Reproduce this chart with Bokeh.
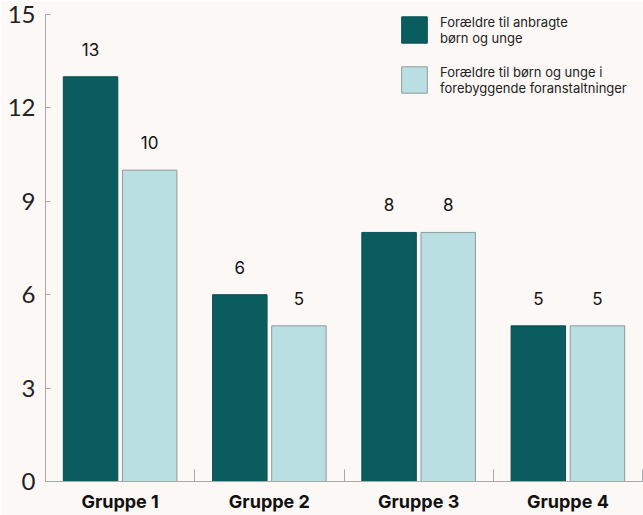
from bokeh.plotting import figure
from bokeh.models import ColumnDataSource, LabelSet, Legend, LegendItem, FixedTicker, Range1d
from bokeh.core.properties import value
from bokeh.embed import file_html
from bokeh.resources import INLINE
import numpy as np

groups = ["Gruppe 1", "Gruppe 2", "Gruppe 3", "Gruppe 4"]
anbragte = [13, 6, 8, 5]
forebyggende = [10, 5, 8, 5]
series_names = ["Forældre til anbragte\nbørn og unge",
                "Forældre til børn og unge i\nforebyggende foranstaltninger"]
y_ticks = [0, 3, 6, 9, 12, 15]

DARK = "#0b5c5e"
LIGHT = "#badfe2"
BG = "#fcf8f6"

centers = np.arange(len(groups)) + 0.5
dodge = 0.198
bw = 0.365

src1 = ColumnDataSource(dict(x=centers - dodge, top=anbragte, lbl=[str(v) for v in anbragte]))
src2 = ColumnDataSource(dict(x=centers + dodge, top=forebyggende, lbl=[str(v) for v in forebyggende]))

W = 643
H = 515
TOP = 14
BOT = 34
LEFT = 45
p = figure(width=W, height=H, output_backend="svg", toolbar_location=None,
           x_range=Range1d(0, 4), y_range=Range1d(0, 15),
           background_fill_color=BG, border_fill_color=BG,
           min_border_left=LEFT, min_border_right=1, min_border_top=TOP, min_border_bottom=BOT)
p.outline_line_color = None
p.grid.visible = False

r1 = p.vbar(x="x", top="top", width=bw, source=src1, fill_color=DARK, line_color="#0a4f51", line_width=1)
r2 = p.vbar(x="x", top="top", width=bw, source=src2, fill_color=LIGHT, line_color="#8f9a9b", line_width=1)

for s in (src1, src2):
    p.add_layout(LabelSet(x="x", y="top", text="lbl", source=s, text_align="center",
                          text_baseline="bottom", y_offset=21, text_font=value("Inter"),
                          text_font_size="17px", text_color="#111111"))

# y axis
p.yaxis.ticker = FixedTicker(ticks=y_ticks)
p.yaxis.axis_line_color = "#a8a8a8"
p.yaxis.major_tick_line_color = "#a8a8a8"
p.yaxis.major_tick_in = 5
p.yaxis.major_tick_out = 0
p.yaxis.minor_tick_line_color = None
p.yaxis.major_label_text_font = "Lato"
p.yaxis.major_label_text_font_size = "24px"
p.yaxis.major_label_text_color = "#222222"
p.yaxis.major_label_standoff = 10

# x axis
p.xaxis.ticker = FixedTicker(ticks=list(centers), minor_ticks=[1, 2, 3, 4])
p.xaxis.major_label_overrides = {float(c): g for c, g in zip(centers, groups)}
p.xaxis.axis_line_color = "#a8a8a8"
p.xaxis.major_tick_line_color = None
p.xaxis.major_tick_in = 0
p.xaxis.major_tick_out = 0
p.xaxis.minor_tick_line_color = "#a8a8a8"
p.xaxis.minor_tick_in = 12
p.xaxis.minor_tick_out = 0
p.xaxis.major_label_text_font = "Inter"
p.xaxis.major_label_text_font_style = "bold"
p.xaxis.major_label_text_font_size = "18px"
p.xaxis.major_label_text_color = "#111111"
p.xaxis.major_label_standoff = 9

frame_h = H - TOP - BOT
legend = Legend(items=[LegendItem(label=series_names[0], renderers=[r1]),
                       LegendItem(label=series_names[1], renderers=[r2])],
                location=(353, frame_h + 2 - 84), orientation="vertical",
                glyph_width=32, glyph_height=33, label_height=33,
                label_standoff=10, spacing=17, padding=0, margin=0,
                border_line_color=None, background_fill_alpha=0,
                label_text_font="Inter", label_text_font_size="13px",
                label_text_color="#222222", label_text_baseline="middle",
                label_text_line_height=1.15)
p.add_layout(legend, "center")

open("out.html", "w").write(file_html(p, INLINE))
